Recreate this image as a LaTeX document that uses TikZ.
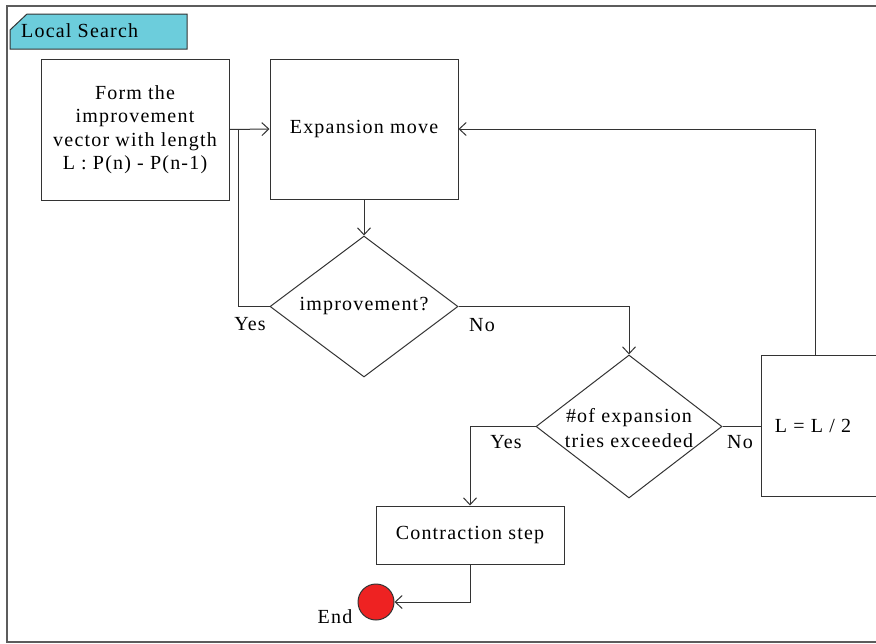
\documentclass[tikz,border=0pt]{standalone}
\usepackage{fontspec}
\setmainfont[LetterSpace=6]{Liberation Serif}
\usetikzlibrary{shapes.geometric,arrows.meta,calc}
\definecolor{ln}{HTML}{333333}
\definecolor{tabc}{HTML}{6CCDDC}
\definecolor{endc}{HTML}{EE2222}
\tikzset{
  ln/.style={draw=ln, line width=1pt},
  boxn/.style={ln, rectangle, minimum width=188pt, inner sep=0pt, align=center, font=\fontsize{20}{23.5}\selectfont},
  dian/.style={ln, diamond, inner sep=0pt},
  txt/.style={align=center, inner sep=0pt, font=\fontsize{20}{24.5}\selectfont},
  conn/.style={ln, -{Straight Barb[length=7pt,width=13pt]}},
  plain/.style={ln}
}
\begin{document}
\begin{tikzpicture}[x=1pt,y=-1pt]
\useasboundingbox (0,0) rectangle (876,643);
\clip (0,0) rectangle (876,643);
\draw[draw=ln!80, line width=1.2pt] (7,6) rectangle (900,642);
% tab
\draw[ln, fill=tabc] (10,30) -- (27,14) -- (187,14) -- (187,49) -- (10,49) -- cycle;
\node[txt, anchor=west] (tab) at (21,31) {Local Search};
% nodes
\node[boxn, minimum height=141pt] (box1) at (135,129.5) {Form the\\improvement\\vector with length\\L : P(n) - P(n-1)};
\node[boxn, minimum height=140pt] (exp) at (364,129) {Expansion move};
\node[dian, minimum width=188pt, minimum height=141pt] (d1) at (364,306.5) {};
\node[txt] (d1t) at (d1.center) {improvement?};
\node[dian, minimum width=186pt, minimum height=143pt] (d2) at (629,426.5) {};
\node[txt] (d2t) at (629,428) {\#of expansion\\tries exceeded};
\node[boxn, minimum width=200pt, minimum height=141pt] (lb) at (861,425.5) {};
\node[txt] (lbt) at (813,426) {L = L / 2};
\node[boxn, minimum height=58pt] (con) at (470,535) {Contraction step};
\node[ln, circle, fill=endc, minimum size=36pt, inner sep=0pt] (end) at (376,602) {};
\node[txt] (endt) at (335,617) {End};
% labels
\node[txt] (y1) at (250,324) {Yes};
\node[txt] (n1) at (482,325) {No};
\node[txt] (y2) at (506,442) {Yes};
\node[txt] (n2) at (740,442) {No};
% connectors
\coordinate (j) at (238,129);
\coordinate (lt) at (815,355);
\draw[conn] (box1.east) -- (exp.west);
\draw[plain] (d1.west) -| (j);
\draw[conn] (exp.south) -- (d1.north);
\draw[conn] (d1.east) -| (d2.north);
\draw[plain] (d2.east) -- (lb.west |- d2.east);
\draw[conn] (lt) |- (exp.east);
\draw[conn] (d2.west) -| (con.north);
\draw[conn] (con.south) |- (end.east);
\end{tikzpicture}
\end{document}
